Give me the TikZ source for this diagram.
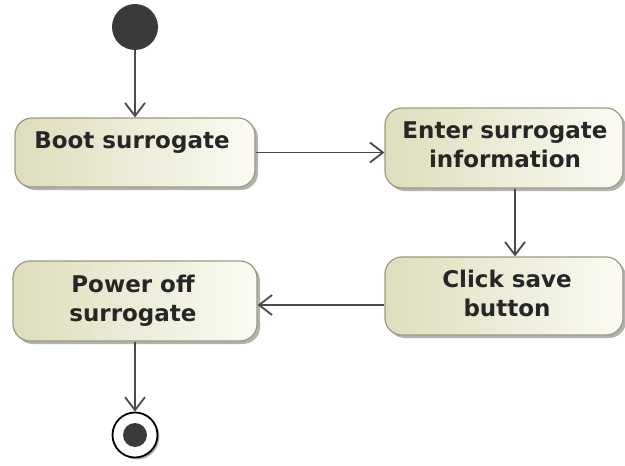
\documentclass[tikz,border=0pt]{standalone}
\usepackage{fontspec}
\setmainfont{DejaVu Sans}
\usetikzlibrary{arrows.meta,shadows}
\definecolor{actleft}{HTML}{DEDDBC}
\definecolor{actright}{HTML}{FBFBF4}
\definecolor{actborder}{HTML}{9A9A7E}
\definecolor{flow}{HTML}{4A4A4A}
\definecolor{blob}{HTML}{3A3A3A}
\begin{document}
\begin{tikzpicture}[x=1pt,y=-1pt,
  act/.style={rounded corners=17pt, draw=actborder, line width=1.2pt,
    left color=actleft, right color=actright,
    drop shadow={shadow xshift=3pt,shadow yshift=-3pt,fill=black,opacity=0.3},
    inner sep=0pt},
  lbl/.style={font=\fontsize{23}{28.5}\selectfont\bfseries, text=black!85,
    align=center, inner sep=0pt, anchor=north},
  flowline/.style={draw=flow, line width=1.8pt,
    -{Straight Barb[length=13pt,width=20pt]}}
]
\useasboundingbox (0,0) rectangle (625,466);

% start and end states
\node[circle, fill=blob, minimum size=46pt, inner sep=0pt] (init) at (135,27) {};
\node[circle, draw=black, line width=1.8pt, fill=white, minimum size=45pt,
  inner sep=0pt, drop shadow={shadow xshift=2pt,shadow yshift=-2pt,fill=black,opacity=0.3}]
  (final) at (135,435) {};
\fill[blob] (final.center) circle (12pt);

% actions
\node[act, minimum width=240pt, minimum height=69pt] (boot)  at (135,152.5) {};
\node[act, minimum width=238pt, minimum height=80pt] (enter) at (504,148) {};
\node[act, minimum width=238pt, minimum height=78pt] (click) at (504,296) {};
\node[act, minimum width=244pt, minimum height=80pt] (power) at (135,301) {};

\node[lbl] (bootlbl)  at (132,132) {Boot surrogate};
\node[lbl] (enterlbl) at (505,122) {Enter surrogate\\information};
\node[lbl] (clicklbl) at (507,270) {Click save\\button};
\node[lbl] (powerlbl) at (133,275) {Power off\\surrogate};

% control flows
\draw[flowline] (init) -- (boot);
\draw[flowline] (boot.east) -- (boot.east -| enter.west);
\draw[flowline] ([xshift=11pt]enter.south) -- ([xshift=11pt]click.north);
\draw[flowline] ([yshift=-9pt]click.west) -- ([yshift=-9pt]click.west -| power.east);
\draw[flowline] (power) -- (final);
\end{tikzpicture}
\end{document}
